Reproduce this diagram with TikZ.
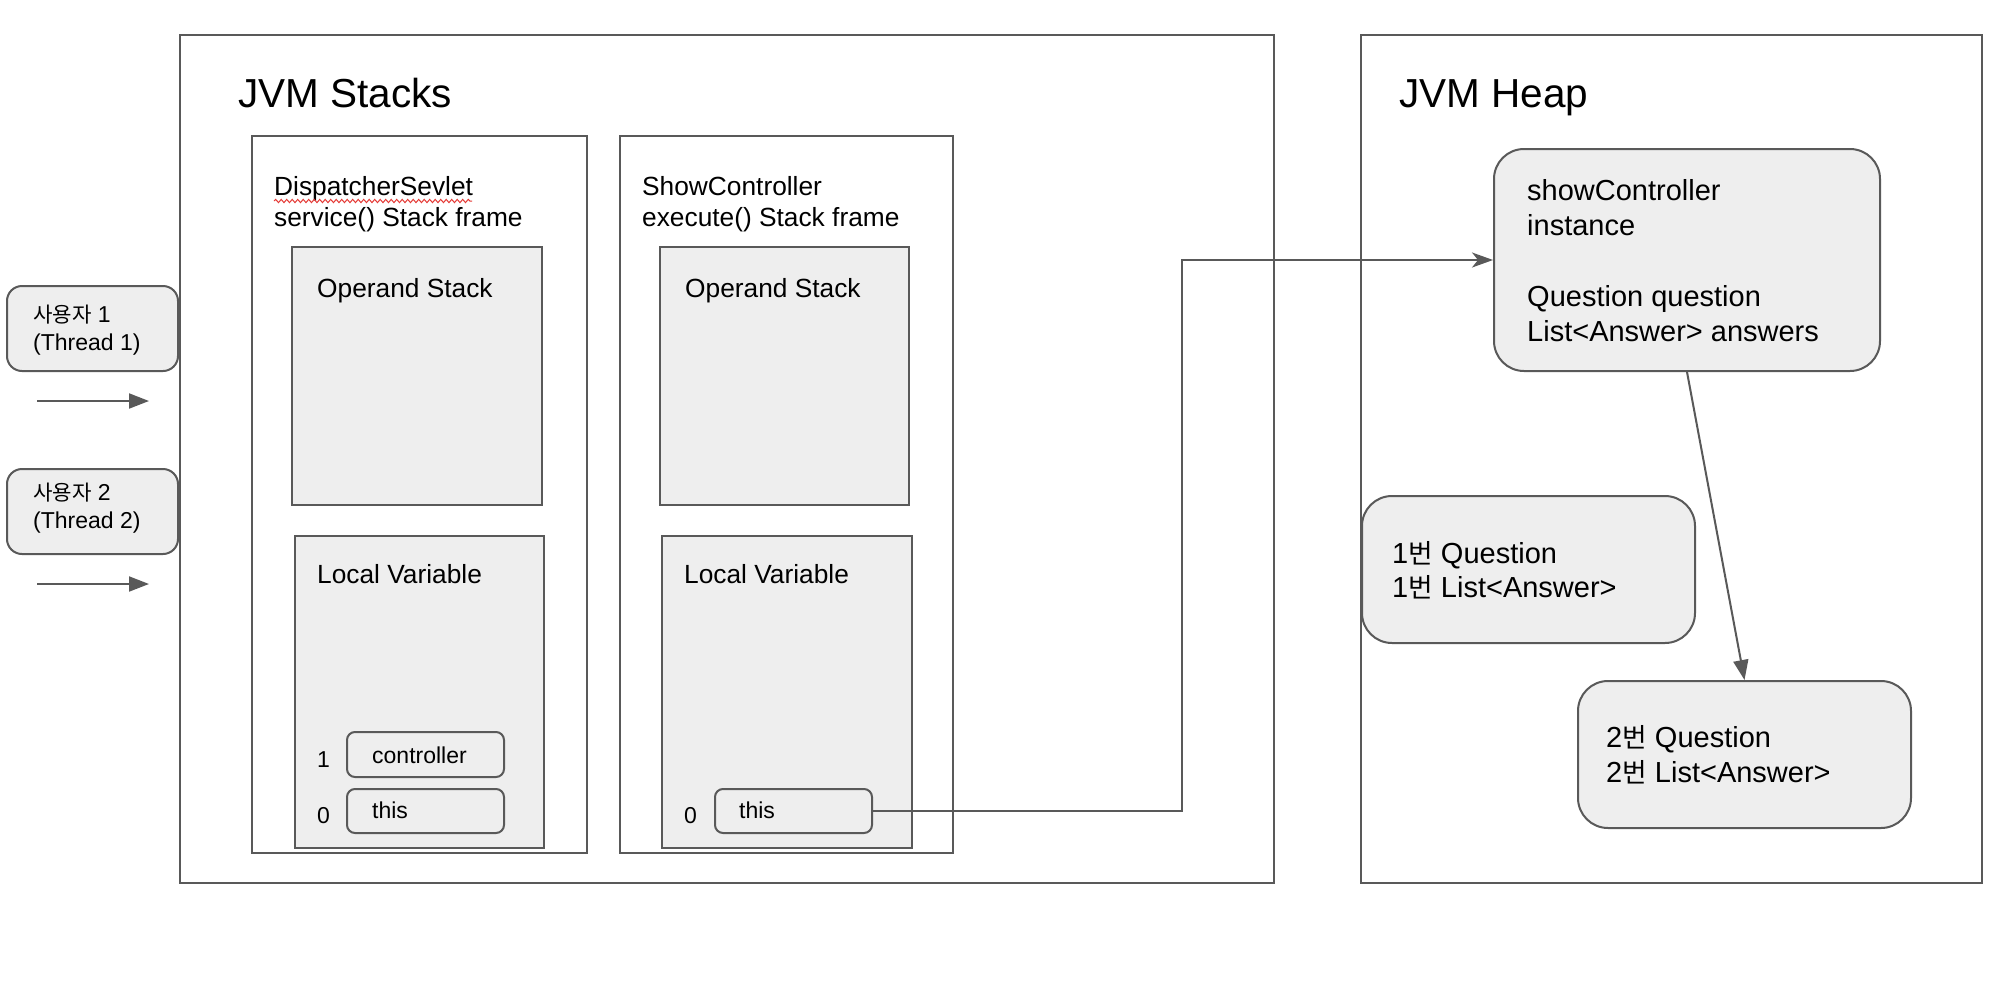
\documentclass[tikz,border=0pt]{standalone}
\usepackage{fontspec}
\setmainfont{Liberation Sans}
\newfontfamily\kr{Noto Sans CJK KR}[Scale=0.92]
\usetikzlibrary{arrows.meta,decorations.pathmorphing,fit}
\definecolor{edgegray}{HTML}{595959}
\definecolor{boxfill}{HTML}{EEEEEE}
\begin{document}
\begin{tikzpicture}[x=1pt,y=-1pt,
  frame/.style={draw=edgegray, line width=2pt, inner sep=0pt},
  gbox/.style={draw=edgegray, line width=2pt, fill=boxfill, inner sep=0pt},
  rbox/.style={gbox, rounded corners=#1},
  txt/.style={inner sep=0pt, anchor=base west, font=\fontsize{26.3}{31}\selectfont},
  small/.style={inner sep=0pt, anchor=base west, font=\fontsize{23}{28}\selectfont},
  big/.style={inner sep=0pt, anchor=base west, font=\fontsize{29}{35}\selectfont},
  title/.style={inner sep=0pt, anchor=base west, font=\fontsize{40.5}{48}\selectfont},
  conn/.style={draw=edgegray, line width=2pt},
  tri/.style={-{Triangle[length=20pt,width=15pt]}},
  barb/.style={-{Stealth[length=21pt,width=15pt,inset=6pt]}}
]
\useasboundingbox (0,0) rectangle (1998,1002);
\fill[white] (0,0) rectangle (1998,1002);

% outer areas
\node[frame, fit={(180,35) (1274,883)}] (stacks) {};
\node[frame, fit={(1361,35) (1982,883)}] (heap) {};
\node[title] (stackstitle) at (238,107) {JVM Stacks};
\node[title] (heaptitle) at (1399,107) {JVM Heap};

% thread boxes
\node[rbox=15pt, fit={(7,286) (178,371)}] (t1) {};
\node[rbox=15pt, fit={(7,469) (178,554)}] (t2) {};
\node[small] (t1a) at (33,322) {{\kr 사용자} 1};
\node[small] (t1b) at (33,350) {(Thread 1)};
\node[small] (t2a) at (33,500) {{\kr 사용자} 2};
\node[small] (t2b) at (33,528) {(Thread 2)};
\coordinate (a1s) at (37,401);
\coordinate (a1e) at (149,401);
\coordinate (a2s) at (37,584);
\coordinate (a2e) at (149,584);
\draw[conn, tri] (a1s) -- (a1e);
\draw[conn, tri] (a2s) -- (a2e);

% frame 1
\node[frame, fit={(252,136) (587,853)}] (frame1) {};
\node[txt] (f1a) at (274,195) {DispatcherSevlet};
\node[txt] (f1b) at (274,226) {service() Stack frame};
\coordinate (sq1) at (274,201);
\coordinate (sq2) at (472,201);
\draw[color={rgb,255:red,229;green,57;blue,53}, line width=1pt, decorate,
  decoration={snake, amplitude=1.6pt, segment length=5.5pt}] (sq1) -- (sq2);
\node[gbox, fit={(292,247) (542,505)}] (os1) {};
\node[txt] (os1t) at (317,297) {Operand Stack};
\node[gbox, fit={(295,536) (544,848)}] (lv1) {};
\node[txt] (lv1t) at (317,583) {Local Variable};
\node[rbox=8pt, fit={(347,732) (504,777)}] (ctrl1) {};
\node[rbox=8pt, fit={(347,789) (504,833)}] (this1) {};
\node[small] (i1) at (317,767) {1};
\node[small] (i0) at (317,823) {0};
\node[small] (ctrl1t) at (372,763) {controller};
\node[small] (this1t) at (372,818) {this};

% frame 2
\node[frame, fit={(620,136) (953,853)}] (frame2) {};
\node[txt] (f2a) at (642,195) {ShowController};
\node[txt] (f2b) at (642,226) {execute() Stack frame};
\node[gbox, fit={(660,247) (909,505)}] (os2) {};
\node[txt] (os2t) at (685,297) {Operand Stack};
\node[gbox, fit={(662,536) (912,848)}] (lv2) {};
\node[txt] (lv2t) at (684,583) {Local Variable};
\node[rbox=8pt, fit={(715,789) (872,833)}] (this2) {};
\node[small] (j0) at (684,823) {0};
\node[small] (this2t) at (739,818) {this};

% heap objects
\node[rbox=30pt, fit={(1494,149) (1880,371)}] (inst) {};
\node[big] (insta) at (1527,200) {showController};
\node[big] (instb) at (1527,235) {instance};
\node[big] (instc) at (1527,306) {Question question};
\node[big] (instd) at (1527,341) {List<Answer> answers};

\node[rbox=30pt, fit={(1362,496) (1695,643)}] (q1) {};
\node[big] (q1a) at (1392,563) {1{\kr 번} Question};
\node[big] (q1b) at (1392,597) {1{\kr 번} List<Answer>};

\node[rbox=30pt, fit={(1578,681) (1911,828)}] (q2) {};
\node[big] (q2a) at (1606,747) {2{\kr 번} Question};
\node[big] (q2b) at (1606,782) {2{\kr 번} List<Answer>};

% connectors
\coordinate (jog) at (1182,811);
\draw[conn, barb] (this2.east) -- (jog) |- (inst.west);
\draw[conn, tri] (inst.south) -- (q2.north);
\end{tikzpicture}
\end{document}
